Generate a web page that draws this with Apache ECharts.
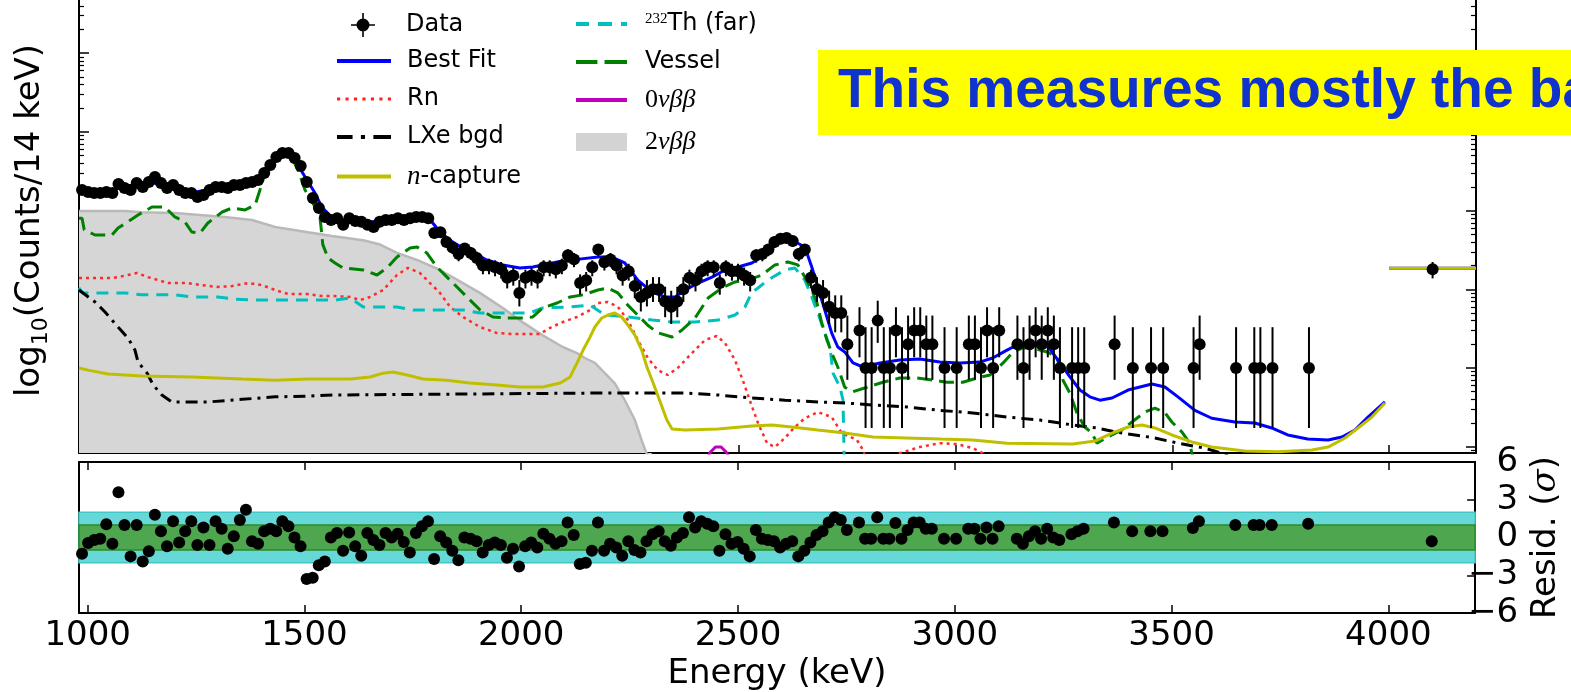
<!DOCTYPE html>
<html><head><meta charset="utf-8">
<script src="https://cdn.jsdelivr.net/npm/echarts@6/dist/echarts.min.js"></script>
<style>html,body{margin:0;padding:0;background:#fff;overflow:hidden}#c{width:1571px;height:692px}</style>
</head><body><div id="c"></div>
<script>
// ---------- data ----------
const binLow = 980, binWidth = 14;           // histogram binning (keV)
// counts per 14 keV bin, bins starting at 980 keV (0 = empty bin)
const dataCounts = [
183,172,167,167,172,167,218,194,183,224,
200,231,267,224,194,211,183,167,167,149,
158,183,200,200,194,211,211,224,231,245,
300,380,480,539,539,466,369,231,145,108,
83,76,80,66,80,74,72,66,62,72,
76,76,80,76,80,83,83,80,52,53,
40,34,28,33,29,25,20,20,19,18,
14,15,9,14,15,14,19,19,18,20,
27,24,12,13,19,32,22,24,20,15,
17,11,8,9,10,10,7,6,7,10,
14,13,17,19,19,12,19,17,17,15,
13,27,28,32,40,44,45,41,28,32,
14,10,9,6,5,5,2,0,3,1,
1,4,1,1,3,1,2,3,3,2,
2,0,1,0,1,0,2,2,1,3,
1,3,0,0,2,1,2,3,2,3,
2,1,0,1,1,1,0,0,0,0,
2,0,0,1,0,0,1,0,1,0,
0,0,0,1,2,0,0,0,0,0,
1,0,0,1,1,0,1,0,0,0,
0,0,1];
// residuals (sigma) per bin, null where the bin is empty
const residuals = [
-1.3,-0.43,-0.2,-0.1,1.05,-0.5,3.6,1.0,-1.5,1.0,
-1.9,-1.1,1.8,0.5,-0.7,1.3,-0.4,0.5,1.3,-0.6,
0.8,-0.6,1.3,0.7,-0.9,0.1,1.4,2.2,-0.3,-0.5,
0.5,0.7,0.5,1.3,0.9,0.0,-0.7,-3.3,-3.2,-2.2,
-1.9,0.0,0.35,-1.05,0.4,-0.7,-1.45,0.35,-0.2,-0.6,
0.35,0.0,0.3,-0.35,-1.2,0.35,0.9,1.3,-1.7,0.1,
-0.4,-1.05,-1.8,0.0,-0.1,-0.3,-1.2,-0.6,-0.4,-0.6,
-1.6,-0.9,-2.3,-0.7,-0.4,-0.8,0.3,-0.1,-0.5,-0.3,
1.2,0.2,-2.1,-2.0,-1.05,1.2,-1.05,-0.5,-0.8,-1.45,
-0.3,-1.0,-1.2,-0.3,0.25,0.5,-0.3,-0.65,0.0,0.35,
1.6,0.8,1.3,1.1,0.9,-1.05,0.25,-0.5,-0.35,-0.9,
-1.5,0.6,-0.1,-0.2,-0.3,-0.8,-0.5,-0.3,-1.5,-1.05,
-0.4,0.2,0.5,1.2,1.6,1.4,0.6,null,1.2,-0.1,
-0.1,1.6,-0.1,-0.1,1.15,-0.1,0.6,1.2,1.2,0.7,
0.7,null,-0.1,null,-0.1,null,0.7,0.7,-0.1,0.8,
-0.1,0.9,null,null,-0.1,-0.5,0.1,0.5,-0.1,0.7,
0.0,-0.2,null,0.25,0.5,0.7,null,null,null,null,
1.2,null,null,0.5,null,null,0.5,null,0.5,null,
null,null,null,0.75,1.3,null,null,null,null,null,
1.0,null,null,1.0,1.0,null,1.0,null,null,null,
null,null,1.1];
// overflow bin (4000-4200 keV)
const overflowEnergy = [4100];
const overflowCounts = [18];
const overflowResid = [-0.3];
// Garwood Poisson intervals for small counts n = 0..10
const poissonLow  = [0, 0.173, 0.708, 1.367, 2.086, 2.840, 3.620, 4.419, 5.232, 6.057, 6.891];
const poissonHigh = [1.841, 3.300, 4.638, 5.918, 7.163, 8.382, 9.584, 10.77, 11.95, 13.11, 14.27];

// model components [energy keV, counts / 14 keV]
const bestFit = [[980,180],[1020,172],[1060,185],[1090,205],[1120,215],[1150,225],[1180,205],[1210,180],[1240,170],[1270,180],[1300,195],[1340,205],[1370,220],[1395,245],[1410,300],[1425,390],[1440,480],[1455,540],[1470,510],[1485,380],[1501,267],[1524,167],[1540,110],[1560,85],[1590,75],[1650,72],[1700,74],[1740,78],[1780,80],[1795,70],[1810,55],[1835,42],[1870,32],[1900,27],[1920,23.6],[1957,20.4],[1996,18.7],[2026,19.2],[2082,22.2],[2128,24],[2176,25.7],[2208,25.7],[2238,21.6],[2268,13.1],[2301,9.2],[2331,8],[2354,8],[2377,9.8],[2407,12],[2439,14.3],[2469,17.6],[2499,19.2],[2531,21.6],[2561,27.3],[2591,38.7],[2623,42.3],[2653,34.5],[2669,19.2],[2683,10.7],[2699,5.46],[2715,2.78],[2729,1.85],[2745,1.6],[2764,1.16],[2787,1.03],[2826,1.16],[2872,1.26],[2918,1.3],[2964,1.19],[3010,1.16],[3056,1.19],[3086,1.34],[3119,1.69],[3142,1.96],[3172,2.14],[3211,1.96],[3241,1.16],[3264,0.77],[3287,0.525],[3310,0.43],[3333,0.39],[3361,0.416],[3398,0.525],[3453,0.626],[3483,0.574],[3513,0.43],[3552,0.29],[3591,0.23],[3644,0.206],[3690,0.2],[3729,0.173],[3766,0.141],[3812,0.125],[3859,0.122],[3891,0.133],[3921,0.163],[3951,0.238],[3990,0.37],[3995,'-'],[4000,18.5],[4200,18.5]];
const radon = [[980,13.9],[1056,13.9],[1070,14.3],[1114,16.1],[1139,14.3],[1185,12],[1231,12],[1263,11.3],[1300,10.7],[1333,11],[1370,12],[1402,11.3],[1432,9.8],[1462,8.7],[1508,8.7],[1540,8.2],[1570,8.2],[1605,8],[1628,7.3],[1651,8],[1681,9.8],[1713,15.2],[1738,18.7],[1766,16.1],[1789,12],[1812,9],[1835,6],[1865,4.45],[1904,3.32],[1943,2.78],[1980,2.7],[2042,2.7],[2065,3.22],[2095,3.84],[2128,4.45],[2158,5.46],[2176,6.7],[2199,6.9],[2222,6],[2245,4.07],[2268,2.27],[2291,1.34],[2314,0.94],[2337,0.815],[2360,1],[2393,1.55],[2423,2.27],[2450,2.55],[2469,2.08],[2492,1.26],[2510,0.7],[2526,0.39],[2545,0.2],[2566,0.111],[2584,0.099],[2607,0.129],[2630,0.178],[2653,0.23],[2683,0.276],[2715,0.238],[2738,0.149],[2773,0.122],[2787,0.091],[2803,0.05],[2861,0.06],[2872,0.083],[2918,0.099],[2964,0.111],[3003,0.108],[3040,0.096],[3063,0.083],[3080,0.05]];
const lxeBgd = [[980,9.8],[1017,6.9],[1040,5.15],[1070,3.32],[1093,2.4],[1109,1.69],[1116,1.19],[1137,0.86],[1151,0.61],[1171,0.454],[1194,0.37],[1277,0.37],[1356,0.4],[1432,0.43],[1508,0.44],[1570,0.454],[2158,0.48],[2377,0.48],[2453,0.454],[2531,0.416],[2607,0.39],[2683,0.37],[2745,0.36],[2810,0.339],[2888,0.32],[2964,0.29],[3040,0.268],[3119,0.238],[3195,0.218],[3271,0.189],[3326,0.173],[3368,0.154],[3414,0.141],[3460,0.129],[3513,0.111],[3575,0.096],[3614,0.083],[3656,0.068]];
const nCapture = [[980,1.0],[1001,0.94],[1047,0.84],[1125,0.79],[1240,0.77],[1356,0.725],[1432,0.7],[1508,0.725],[1605,0.725],[1651,0.77],[1681,0.86],[1704,0.89],[1736,0.815],[1773,0.725],[1828,0.7],[1881,0.645],[1943,0.61],[1996,0.574],[2049,0.574],[2089,0.645],[2112,0.77],[2128,1.16],[2142,1.69],[2158,2.48],[2169,3.32],[2185,4.32],[2199,4.71],[2215,5.0],[2231,4.45],[2245,3.52],[2261,2.63],[2277,1.69],[2289,1.03],[2301,0.7],[2312,0.48],[2324,0.32],[2335,0.218],[2347,0.168],[2377,0.163],[2453,0.168],[2531,0.183],[2577,0.189],[2623,0.178],[2683,0.163],[2745,0.149],[2810,0.133],[2964,0.125],[3040,0.122],[3119,0.111],[3271,0.108],[3322,0.118],[3361,0.149],[3398,0.178],[3430,0.189],[3460,0.173],[3499,0.141],[3545,0.115],[3591,0.099],[3667,0.088],[3743,0.086],[3822,0.091],[3859,0.099],[3898,0.129],[3928,0.173],[3960,0.238],[3990,0.36],[3995,'-'],[4000,18.5],[4200,18.5]];
const th232Far = [[980,10.4],[988,9],[1086,9],[1125,8.5],[1201,8.5],[1240,8],[1300,8],[1340,7.5],[1393,7.3],[1570,7.3],[1605,7.75],[1635,5.96],[1713,5.96],[1750,5.46],[1865,5.46],[1904,5],[2019,5],[2049,5.8],[2112,5.96],[2158,6.3],[2192,4.71],[2245,4.45],[2301,4.07],[2347,3.84],[2400,3.84],[2453,4.07],[2492,4.71],[2515,5.96],[2531,9.2],[2545,10.4],[2568,13.1],[2607,17.6],[2630,18.7],[2653,13.1],[2669,8],[2683,5],[2699,2.78],[2711,1.85],[2718,0.86],[2734,0.57],[2741,0.39],[2745,0.03]];
const vessel = [[980,80],[987,80],[992,57],[1017,49],[1056,49],[1070,60],[1093,72],[1116,88],[1148,111],[1178,111],[1201,83],[1224,72],[1240,53.5],[1259,52],[1277,69.5],[1310,96],[1333,108],[1363,102],[1386,118],[1397,183],[1409,300],[1432,439],[1450,508],[1471,466],[1485,328],[1501,183],[1535,88],[1542,37],[1554,25],[1570,21.6],[1588,18.7],[1635,17.6],[1667,15.2],[1692,19.2],[1713,25.7],[1743,33.5],[1759,34.5],[1782,28.9],[1805,19.2],[1842,12],[1874,8],[1904,5.5],[1934,4.45],[1966,4.32],[2003,4.32],[2026,4.45],[2049,5.8],[2082,6.7],[2112,8],[2142,8.5],[2176,9.8],[2199,10.4],[2222,9],[2245,6.3],[2268,4.7],[2291,3.5],[2314,2.8],[2347,2.48],[2370,3.04],[2400,4.32],[2430,7.75],[2462,10.4],[2492,12.4],[2522,13.1],[2554,15.2],[2584,20.4],[2614,22.2],[2637,20.4],[2653,14.3],[2669,9.8],[2681,6.7],[2692,3.73],[2704,2.27],[2715,1.55],[2729,1.03],[2745,0.57],[2764,0.5],[2796,0.57],[2833,0.66],[2872,0.746],[2911,0.746],[2948,0.7],[2980,0.66],[3017,0.66],[3050,0.746],[3080,0.815],[3110,1.16],[3133,1.6],[3156,1.8],[3179,1.8],[3211,1.6],[3234,1.38],[3248,0.7],[3264,0.48],[3280,0.27],[3298,0.178],[3315,0.149],[3326,0.111],[3351,0.133],[3384,0.163],[3407,0.206],[3437,0.276],[3460,0.31],[3483,0.27],[3499,0.206],[3522,0.154],[3540,0.111],[3545,0.083],[3560,0.05]];
const zeroNu = [[2420,0.06],[2435,0.085],[2447,0.099],[2460,0.099],[2472,0.085],[2487,0.06]];
const twoNu = [[980,99],[1086,99],[1125,95],[1201,93],[1316,83],[1379,76],[1432,62],[1508,53],[1563,47.6],[1635,42],[1674,37],[1713,29],[1759,23.6],[1812,17.6],[1865,12],[1904,9],[1957,5.8],[2003,3.8],[2049,2.6],[2095,1.85],[2128,1.55],[2146,1.34],[2169,1.16],[2192,0.86],[2215,0.64],[2238,0.39],[2261,0.22],[2277,0.12],[2289,0.08],[2300,0.05]];

// axes / ticks
const xTicks = [1000, 1500, 2000, 2500, 3000, 3500, 4000];
const yMajorTicks = [0.1, 1, 10, 100, 1000, 10000];
const residTicks = [-3, 0, 3];
const bandOuter = [-2, 2];
const bandInner = [-1, 1];
const yMin = 0.0832, yMax = 47400, xMin = 980, xMax = 4200;

// ---------- build ----------
const yMinorTicks = [];
[0.01, 0.1, 1, 10, 100, 1000, 10000].forEach(d => { for (let m = 2; m <= 9; m++) { const v = m * d; if (v > yMin && v < yMax) yMinorTicks.push(v); } });
const dataPts = [], errBars = [], residPts = [];
dataCounts.forEach((n, k) => {
  const e = binLow + binWidth * (k + 0.5);
  if (n > 0) {
    dataPts.push([e, n]);
    errBars.push([e, n <= 10 ? poissonLow[n] : n - Math.sqrt(n), n <= 10 ? poissonHigh[n] : n + Math.sqrt(n)]);
  }
  if (residuals[k] !== null && residuals[k] !== undefined) residPts.push([e, residuals[k]]);
});
overflowEnergy.forEach((e, i) => {
  const n = overflowCounts[i];
  dataPts.push([e, n]);
  errBars.push([e, n - Math.sqrt(n), n + Math.sqrt(n)]);
  residPts.push([e, overflowResid[i]]);
});

const FONT = 'DejaVu Sans';
const AX = { color: '#000', width: 2 };
function lineSeries(name, data, color, width, type, z) {
  return { type: 'line', name, data, xAxisIndex: 0, yAxisIndex: 0, symbol: 'none', showSymbol: false,
    lineStyle: { color, width, type: type || 'solid', cap: 'butt' }, z, silent: true, clip: true };
}

const richLegend = {
  t: { fontSize: 24, fontFamily: FONT, color: '#000', lineHeight: 24 },
  sup: { fontSize: 15, fontFamily: 'Liberation Serif', color: '#000', lineHeight: 14, verticalAlign: 'top' },
  i: { fontSize: 27, fontFamily: 'Liberation Serif', fontStyle: 'italic', color: '#000', lineHeight: 24 },
  r: { fontSize: 26, fontFamily: 'Liberation Serif', color: '#000', lineHeight: 24 },
  m: { fontSize: 26, fontFamily: 'Liberation Serif', fontStyle: 'italic', color: '#000', lineHeight: 24 }
};
function legendFmt(name) {
  if (name === '232Th (far)') return '{sup|232}{t|Th (far)}';
  if (name === 'n-capture') return '{i|n}{t|-capture}';
  if (name === '0νββ') return '{r|0}{m|νββ}';
  if (name === '2νββ') return '{r|2}{m|νββ}';
  return '{t|' + name + '}';
}
function legendItem(name, icon, color, left, cy, width, padLeft) {
  return { show: true, selectedMode: false, orient: 'horizontal', left, top: cy - 12, padding: 0,
    itemWidth: width, itemHeight: 24, itemGap: 0,
    data: [{ name, icon, itemStyle: { color, opacity: 1, borderWidth: 0 } }],
    formatter: legendFmt,
    textStyle: { fontSize: 24, fontFamily: FONT, color: '#000', padding: [0, 0, 0, padLeft], rich: richLegend } };
}
const ICON_DATA = 'path://M11.2,0h1.6v24h-1.6z M0,11.2h24v1.6h-24z M12,5.5a6.5,6.5 0 1 1 -0.001,0z';
const ICON_SOLID = 'path://M0,0h54v4h-54z';
const ICON_DOT = 'path://M0,0h3v3h-3z M8,0h3v3h-3z M16,0h3v3h-3z M24,0h3v3h-3z M32,0h3v3h-3z M40,0h3v3h-3z M48,0h3v3h-3z';
const ICON_DASHDOT = 'path://M0,0h15v4h-15z M23,0h4v4h-4z M35,0h17v4h-17z';
const ICON_CYAN = 'path://M0,0h13v4h-13z M22,0h14v4h-14z M45,0h6v4h-6z';
const ICON_GREEN = 'path://M0,0h21v4h-21z M28,0h22v4h-22z';
const ICON_MAG = 'path://M0,0h52v4h-52z';
const ICON_BOX = 'path://M0,0h51v18h-51z';

const option = {
  animation: false,
  backgroundColor: '#fff',
  grid: [
    { left: 79, top: 0, width: 1397, height: 453 },
    { left: 79, top: 462, width: 1397, height: 153 }
  ],
  xAxis: [
    { gridIndex: 0, type: 'value', min: xMin, max: xMax, position: 'bottom',
      axisLine: { show: true, onZero: false, lineStyle: AX },
      axisTick: { show: true, inside: true, length: 8, customValues: xTicks, lineStyle: { color: '#000', width: 1.5 } },
      axisLabel: { show: false }, splitLine: { show: false } },
    { gridIndex: 1, type: 'value', min: xMin, max: xMax, position: 'bottom',
      axisLine: { show: true, onZero: false, lineStyle: AX },
      axisTick: { show: true, inside: true, length: 8, customValues: xTicks, lineStyle: { color: '#000', width: 1.5 } },
      axisLabel: { show: true, customValues: xTicks, fontSize: 34, fontFamily: FONT, color: '#000', margin: 6,
        formatter: v => String(v) },
      splitLine: { show: false },
      name: 'Energy (keV)', nameLocation: 'middle', nameGap: 44,
      nameTextStyle: { fontSize: 34, fontFamily: FONT, color: '#000' } },
    { gridIndex: 1, type: 'value', min: xMin, max: xMax, position: 'top',
      axisLine: { show: true, onZero: false, lineStyle: AX },
      axisTick: { show: true, inside: true, length: 8, customValues: xTicks, lineStyle: { color: '#000', width: 1.5 } },
      axisLabel: { show: false }, splitLine: { show: false } }
  ],
  yAxis: [
    { gridIndex: 0, type: 'log', logBase: 10, min: yMin, max: yMax, position: 'left',
      axisLine: { show: true, lineStyle: AX },
      axisTick: { show: true, inside: true, length: 10, customValues: yMajorTicks, lineStyle: { color: '#000', width: 1.5 } },
      axisLabel: { show: false }, splitLine: { show: false },
      name: '{a|log}{s|10}{a|(Counts/14 keV)}', nameLocation: 'middle', nameRotate: 90, nameGap: 27,
      nameTextStyle: { color: '#000', fontFamily: FONT, fontSize: 34, padding: [0, 0, 0, 12],
        rich: { a: { fontSize: 34, fontFamily: FONT, color: '#000', lineHeight: 44 },
                s: { fontSize: 22, fontFamily: FONT, color: '#000', lineHeight: 22, verticalAlign: 'bottom' } } } },
    { gridIndex: 0, type: 'log', logBase: 10, min: yMin, max: yMax, position: 'left',
      axisLine: { show: false },
      axisTick: { show: true, inside: true, length: 5, customValues: yMinorTicks, lineStyle: { color: '#000', width: 1.2 } },
      axisLabel: { show: false }, splitLine: { show: false } },
    { gridIndex: 0, type: 'log', logBase: 10, min: yMin, max: yMax, position: 'right',
      axisLine: { show: true, lineStyle: AX },
      axisTick: { show: true, inside: true, length: 10, customValues: yMajorTicks, lineStyle: { color: '#000', width: 1.5 } },
      axisLabel: { show: false }, splitLine: { show: false } },
    { gridIndex: 0, type: 'log', logBase: 10, min: yMin, max: yMax, position: 'right',
      axisLine: { show: false },
      axisTick: { show: true, inside: true, length: 5, customValues: yMinorTicks, lineStyle: { color: '#000', width: 1.2 } },
      axisLabel: { show: false }, splitLine: { show: false } },
    { gridIndex: 1, type: 'value', min: -6, max: 6, interval: 3, position: 'right',
      axisLine: { show: true, onZero: false, lineStyle: AX },
      axisTick: { show: true, inside: true, length: 8, customValues: residTicks, lineStyle: { color: '#000', width: 1.5 } },
      axisLabel: { show: true, fontSize: 34, fontFamily: FONT, color: '#000', align: 'right', margin: 43,
        formatter: v => (v < 0 ? '\u2212' + Math.abs(v) : String(v)) },
      splitLine: { show: false },
      name: '{a|Resid. (}{i|σ}{a|)}', nameLocation: 'middle', nameRotate: 90, nameGap: 52,
      nameTextStyle: { color: '#000', fontFamily: FONT, fontSize: 34,
        rich: { a: { fontSize: 34, fontFamily: FONT, color: '#000' },
                i: { fontSize: 34, fontFamily: 'DejaVu Serif', fontStyle: 'italic', color: '#000' } } } },
    { gridIndex: 1, type: 'value', min: -6, max: 6, interval: 3, position: 'left',
      axisLine: { show: true, onZero: false, lineStyle: AX },
      axisTick: { show: false }, axisLabel: { show: false }, splitLine: { show: false } }
  ],
  legend: [
    legendItem('Data', ICON_DATA, '#000', 351, 25, 54, 11),
    legendItem('Best Fit', ICON_SOLID, '#0000ff', 337, 61, 54, 11),
    legendItem('Rn', ICON_DOT, '#ff2020', 337, 99, 54, 11),
    legendItem('LXe bgd', ICON_DASHDOT, '#000', 337, 137, 54, 11),
    legendItem('n-capture', ICON_SOLID, '#bfbf00', 337, 175, 54, 11),
    legendItem('232Th (far)', ICON_CYAN, '#00bfbf', 576, 24, 51, 13),
    legendItem('Vessel', ICON_GREEN, '#008000', 576, 62, 51, 13),
    legendItem('0νββ', ICON_MAG, '#bf00bf', 576, 99, 51, 13),
    legendItem('2νββ', ICON_BOX, '#d3d3d3', 576, 141, 51, 13)
  ],
  series: [
    { type: 'line', name: '2νββ', data: twoNu, xAxisIndex: 0, yAxisIndex: 0, symbol: 'none', showSymbol: false,
      lineStyle: { color: '#b9b9b9', width: 2.5 }, areaStyle: { color: '#d6d6d6', opacity: 1, origin: 'start' },
      z: 1, silent: true, clip: true },
    lineSeries('Rn', radon, '#ff2a2a', 2.5, [3, 4], 3),
    lineSeries('232Th (far)', th232Far, '#00bfbf', 3, [12, 8], 3),
    lineSeries('LXe bgd', lxeBgd, '#000', 3, [12, 6, 3, 6], 3),
    lineSeries('Vessel', vessel, '#008000', 3, [15, 7], 4),
    lineSeries('0νββ', zeroNu, '#bf00bf', 3, 'solid', 4),
    lineSeries('Best Fit', bestFit, '#0000ff', 3, 'solid', 5),
    lineSeries('n-capture', nCapture, '#bfbf00', 3, 'solid', 6),
    { type: 'custom', name: 'Data', xAxisIndex: 0, yAxisIndex: 0, data: errBars, z: 9, silent: true, clip: true,
      encode: { x: 0, y: [1, 2] },
      renderItem: (params, api) => {
        const p1 = api.coord([api.value(0), api.value(1)]);
        const p2 = api.coord([api.value(0), api.value(2)]);
        return { type: 'line', shape: { x1: p1[0], y1: p1[1], x2: p2[0], y2: p2[1] },
          style: { stroke: '#000', lineWidth: 2 } };
      } },
    { type: 'scatter', name: 'Data', xAxisIndex: 0, yAxisIndex: 0, data: dataPts, symbol: 'circle', symbolSize: 12,
      itemStyle: { color: '#000', opacity: 1 }, z: 10, silent: true },
    { type: 'scatter', name: 'Residuals', xAxisIndex: 1, yAxisIndex: 4, data: residPts, symbol: 'circle', symbolSize: 12,
      itemStyle: { color: '#000', opacity: 1 }, z: 10, silent: true,
      markArea: { silent: true, data: [
        [{ xAxis: xMin, yAxis: bandOuter[0], itemStyle: { color: '#66d8d8', borderColor: '#40c8c8', borderWidth: 1.5 } }, { xAxis: xMax, yAxis: bandOuter[1] }],
        [{ xAxis: xMin, yAxis: bandInner[0], itemStyle: { color: '#4ea64e', borderColor: '#2a8a2a', borderWidth: 1.5 } }, { xAxis: xMax, yAxis: bandInner[1] }]
      ] } }
  ],
  graphic: [
    { type: 'rect', z: 100, shape: { x: 818, y: 50, width: 800, height: 85 }, style: { fill: '#ffff00' } },
    { type: 'text', z: 101, x: 838, y: 92,
      style: { text: 'This measures mostly the background', font: 'bold 55px "Liberation Sans"', fill: '#0f33cc',
        align: 'left', verticalAlign: 'middle' } }
  ]
};
const chart = echarts.init(document.getElementById('c'), null, { renderer: 'canvas', width: 1571, height: 692 });
chart.setOption(option);
</script>
</body></html>
